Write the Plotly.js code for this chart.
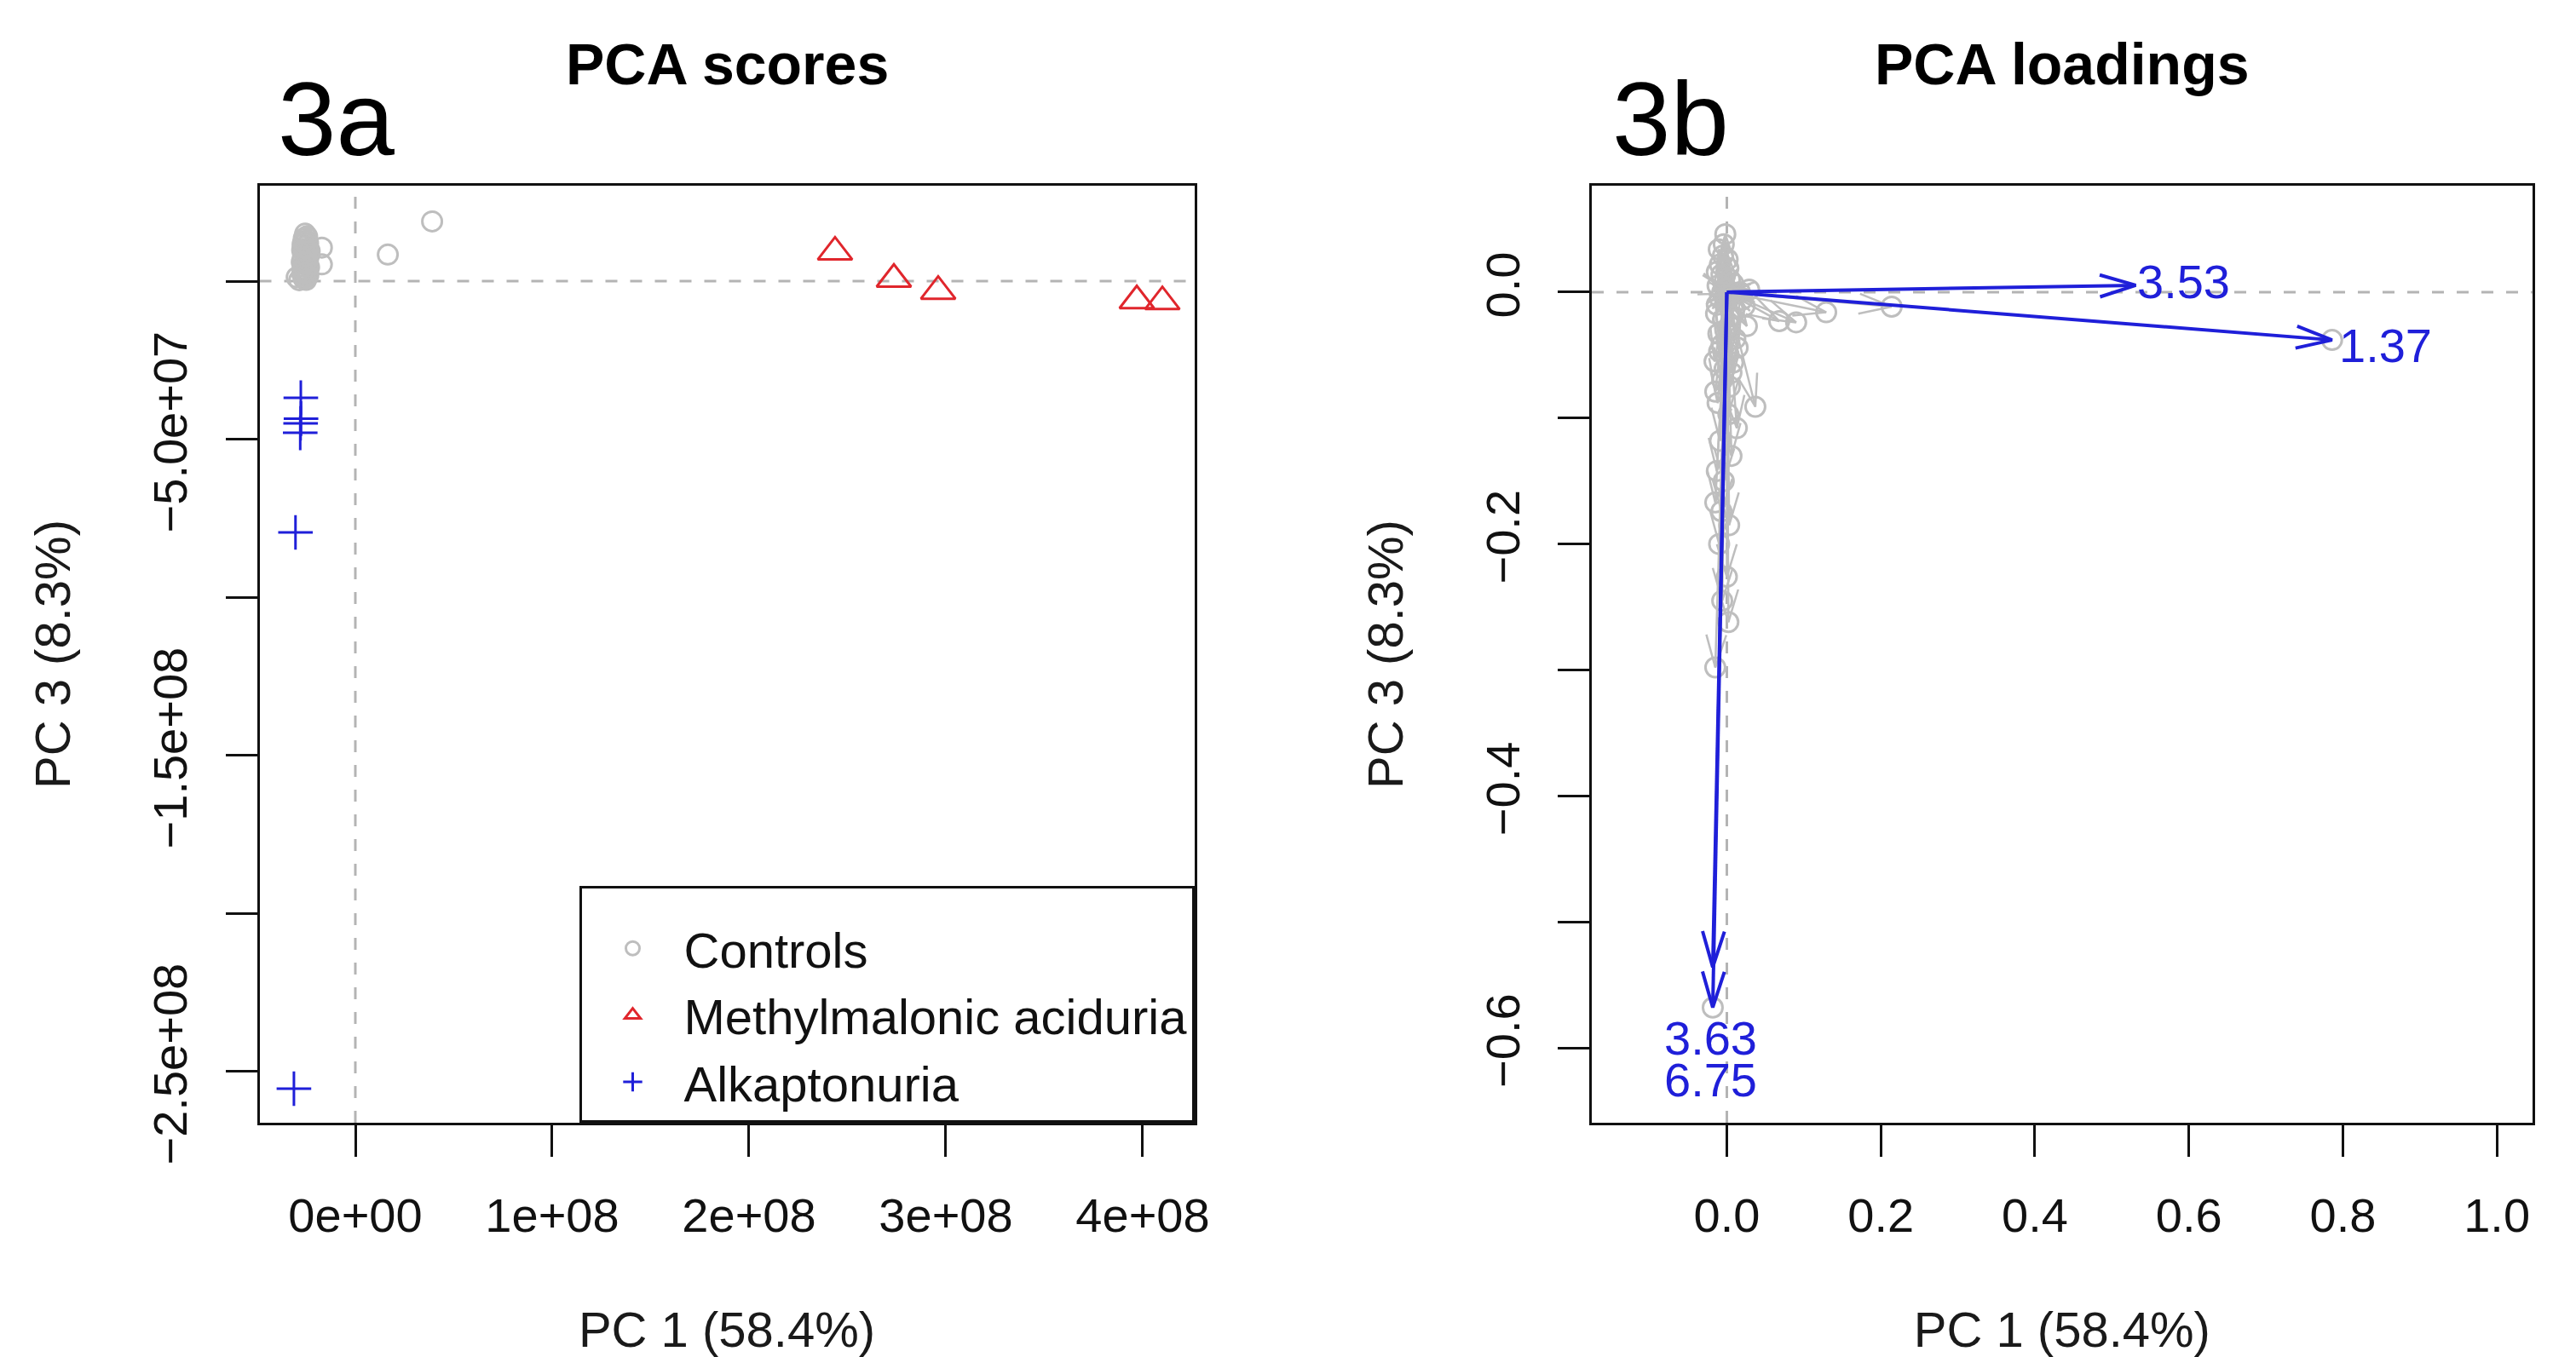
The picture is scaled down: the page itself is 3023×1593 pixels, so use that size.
<!DOCTYPE html>
<html>
<head>
<meta charset="utf-8">
<script src="https://cdn.plot.ly/plotly-3.0.1.min.js"></script>
<style>html,body{margin:0;padding:0;background:#fff;}#chart{width:3023px;height:1593px;}</style>
</head>
<body>
<div id="chart"></div>
<script>
// ---------- Panel 3a: PCA scores ----------
const groupNames = ['Controls', 'Methylmalonic aciduria', 'Alkaptonuria'];

const controlsPC1 = [-2.55e7, -2.45e7, -2.62e7, -2.50e7, -2.40e7, -2.68e7, -2.55e7, -2.42e7, -2.70e7, -2.60e7,
                     -2.47e7, -2.36e7, -2.66e7, -2.52e7, -2.41e7, -2.72e7, -2.58e7, -2.45e7, -2.35e7, -2.67e7,
                     -2.53e7, -2.42e7, -2.70e7, -2.58e7, -2.46e7, -2.62e7, -2.50e7, -2.98e7, -2.85e7, -1.70e7,
                     -1.70e7, -2.48e7, -2.57e7, -2.44e7, -2.63e7, -2.39e7, -2.55e7, -2.32e7, -2.64e7, -2.51e7,
                     1.65e7, 3.90e7];
const controlsPC3 = [15.0e6, 14.2e6, 13.5e6, 12.8e6, 12.0e6, 11.6e6, 11.0e6, 10.3e6, 9.8e6, 9.2e6,
                     8.7e6, 8.1e6, 7.6e6, 7.0e6, 6.5e6, 6.0e6, 5.5e6, 4.9e6, 4.4e6, 3.9e6,
                     3.3e6, 2.8e6, 2.3e6, 1.8e6, 1.3e6, 0.8e6, 0.4e6, 1.2e6, 0.3e6, 10.6e6,
                     5.3e6, 13.7e6, 10.1e6, 7.7e6, 4.6e6, 1.9e6, 2.6e6, 9.5e6, 12.3e6, 5.9e6,
                     8.4e6, 18.9e6];

const mmaPC1 = [2.437e8, 2.736e8, 2.961e8, 3.970e8, 4.100e8];
const mmaPC3 = [9.2e6, 0.6e6, -3.2e6, -6.2e6, -6.5e6];

const akuPC1 = [-2.77e7, -2.76e7, -2.78e7, -2.80e7, -3.04e7, -3.12e7];
const akuPC3 = [-3.69e7, -4.35e7, -4.50e7, -4.80e7, -7.95e7, -2.555e8];

const scoresXTickVals = [0, 1e8, 2e8, 3e8, 4e8];
const scoresXTickText = ['0e+00', '1e+08', '2e+08', '3e+08', '4e+08'];
const scoresYTickVals = [0, -5e7, -1e8, -1.5e8, -2e8, -2.5e8];
const scoresYTickText = ['', '\u22125.0e+07', '', '\u22121.5e+08', '', '\u22122.5e+08'];

// ---------- Panel 3b: PCA loadings ----------
const loadPC1 = [-0.002, -0.0105, -0.005, -0.009, 0.002, -0.007, 0.004, -0.012, -0.003, 0.006,
                 -0.009, 0.000, 0.010, -0.014, -0.005, 0.004, -0.011, 0.011, -0.007, 0.002,
                 -0.016, -0.003, 0.006, -0.015, 0.037, 0.013, -0.015, -0.007, 0.000, -0.015,
                 0.023, 0.029, 0.026, 0.068, 0.090, 0.129, 0.214, 0.786, -0.0183,
                 -0.004, 0.001, -0.013, 0.008, -0.006, 0.003, -0.013, 0.007, -0.002, 0.014,
                 -0.010, 0.008, -0.006, 0.004, -0.012, 0.002, -0.009, 0.006, -0.013, -0.004,
                 0.003, -0.010, -0.006, 0.002, 0.017, 0.020];
const loadPC3 = [0.046, 0.034, 0.029, 0.022, 0.019, 0.014, 0.010, 0.005, 0.003, -0.001,
                 -0.005, -0.009, -0.013, -0.017, -0.022, -0.027, -0.033, -0.037, -0.042, -0.049,
                 -0.055, -0.061, -0.064, -0.079, -0.091, -0.108, -0.167, -0.174, -0.226, -0.298,
                 -0.011, 0.002, -0.027, -0.023, -0.024, -0.016, -0.0115, -0.038, -0.568,
                 0.038, 0.026, 0.016, 0.007, 0.000, -0.003, -0.010, -0.019, -0.030, -0.044,
                 -0.047, -0.056, -0.070, -0.075, -0.088, -0.097, -0.118, -0.130, -0.142, -0.150,
                 -0.185, -0.200, -0.245, -0.262, 0.000, -0.006];

const topLabels = ['3.53', '1.37', '3.63', '6.75'];
const topPC1 = [0.531, 0.786, -0.0183, -0.0183];
const topPC3 = [0.0054, -0.038, -0.536, -0.568];

const loadXTickVals = [0, 0.2, 0.4, 0.6, 0.8, 1.0];
const loadXTickText = ['0.0', '0.2', '0.4', '0.6', '0.8', '1.0'];
const loadYTickVals = [0, -0.1, -0.2, -0.3, -0.4, -0.5, -0.6];
const loadYTickText = ['0.0', '', '\u22120.2', '', '\u22120.4', '', '\u22120.6'];

const axisTitleX = 'PC 1 (58.4%)';
const axisTitleY = 'PC 3 (8.3%)';

// ---------- styles ----------
const FONT = 'Liberation Sans, Arial, sans-serif';
const GRAY = '#BEBEBE';
const RED = '#E0262C';
const BLUE = '#1F1FD9';

function segs(x0, y0, xs, ys) {
  const sx = [], sy = [];
  for (let i = 0; i < xs.length; i++) { sx.push(x0, xs[i], null); sy.push(y0, ys[i], null); }
  return {x: sx, y: sy};
}
const graySegs = segs(0, 0, loadPC1, loadPC3);
const blueSegs = segs(0, 0, topPC1, topPC3);

const traces = [
  {type: 'scatter', mode: 'markers', name: groupNames[0], x: controlsPC1, y: controlsPC3, xaxis: 'x', yaxis: 'y',
   marker: {symbol: 'circle-open', size: 23, color: GRAY, line: {color: GRAY, width: 3}}},
  {type: 'scatter', mode: 'markers', name: groupNames[1], x: mmaPC1, y: mmaPC3, xaxis: 'x', yaxis: 'y',
   marker: {symbol: 'triangle-up-open', size: 35, color: RED, line: {color: RED, width: 3}}},
  {type: 'scatter', mode: 'markers', name: groupNames[2], x: akuPC1, y: akuPC3, xaxis: 'x', yaxis: 'y',
   marker: {symbol: 'cross-thin-open', size: 29, color: BLUE, line: {color: BLUE, width: 3}}},
  // loadings: gray arrows, heads, circles
  {type: 'scatter', mode: 'lines', x: graySegs.x, y: graySegs.y, xaxis: 'x2', yaxis: 'y2', showlegend: false,
   line: {color: GRAY, width: 2.5}, hoverinfo: 'skip'},
  {type: 'scatter', mode: 'lines', x: [], y: [], xaxis: 'x2', yaxis: 'y2', showlegend: false,
   line: {color: GRAY, width: 2.5}, hoverinfo: 'skip'},
  {type: 'scatter', mode: 'markers', x: loadPC1, y: loadPC3, xaxis: 'x2', yaxis: 'y2', showlegend: false,
   marker: {symbol: 'circle-open', size: 23, color: GRAY, line: {color: GRAY, width: 3}}},
  {type: 'scatter', mode: 'lines', x: blueSegs.x, y: blueSegs.y, xaxis: 'x2', yaxis: 'y2', showlegend: false,
   line: {color: BLUE, width: 4}, hoverinfo: 'skip'},
  {type: 'scatter', mode: 'lines', x: [], y: [], xaxis: 'x2', yaxis: 'y2', showlegend: false,
   line: {color: BLUE, width: 4}, hoverinfo: 'skip'}
];

const baseAxis = {
  showline: true, mirror: true, linecolor: '#111', linewidth: 3,
  ticks: 'outside', ticklen: 37, tickwidth: 3, tickcolor: '#111',
  showgrid: false, zeroline: false, automargin: false,
  tickfont: {family: FONT, size: 56, color: '#111'}
};
function ax(extra) { return Object.assign(JSON.parse(JSON.stringify(baseAxis)), extra); }

const yDom = [1 - 1318 / 1593, 1 - 218 / 1593];
const xTitle = {text: axisTitleX, standoff: 84, font: {family: FONT, size: 58, color: '#1a1a1a'}};
const yTitle = {text: axisTitleY, standoff: 67, font: {family: FONT, size: 58, color: '#1a1a1a'}};

const dashLine = {color: '#B4B4B4', width: 3, dash: '14px,15px'};
const labelShift = [
  {xanchor: 'left', yanchor: 'middle', xshift: 0, yshift: 4},
  {xanchor: 'left', yanchor: 'middle', xshift: 6, yshift: -6},
  {xanchor: 'center', yanchor: 'middle', xshift: -2, yshift: -83},
  {xanchor: 'center', yanchor: 'middle', xshift: -2, yshift: -85}
];
const labelAnn = topLabels.map((t, i) => Object.assign({
  text: t, x: topPC1[i], y: topPC3[i], xref: 'x2', yref: 'y2', showarrow: false,
  font: {family: FONT, size: 56, color: BLUE}
}, labelShift[i]));

const layout = {
  width: 3023, height: 1593,
  margin: {l: 0, r: 0, t: 0, b: 0},
  paper_bgcolor: '#fff', plot_bgcolor: '#fff',
  showlegend: true,
  legend: {
    x: 1401.5 / 3023, xanchor: 'right', y: 1 - 1318 / 1593, yanchor: 'bottom',
    bordercolor: '#111', borderwidth: 3, bgcolor: '#fff',
    font: {family: FONT, size: 58, color: '#111'}, itemwidth: 110,
    title: {text: '\u00a0', font: {family: FONT, size: 20, color: '#fff'}}
  },
  xaxis: ax({domain: [304.5 / 3023, 1401.5 / 3023], range: [-4.87e7, 4.262e8], anchor: 'y',
             tickmode: 'array', tickvals: scoresXTickVals, ticktext: scoresXTickText,
             ticklabelstandoff: 21, title: xTitle}),
  yaxis: ax({domain: yDom, range: [-2.663e8, 3.019e7], anchor: 'x',
             tickmode: 'array', tickvals: scoresYTickVals, ticktext: scoresYTickText, tickangle: -90,
             ticklabelstandoff: 23, title: yTitle}),
  xaxis2: ax({domain: [1868 / 3023, 2971.7 / 3023], range: [-0.1754, 1.046], anchor: 'y2',
              tickmode: 'array', tickvals: loadXTickVals, ticktext: loadXTickText,
              ticklabelstandoff: 21, title: xTitle}),
  yaxis2: ax({domain: yDom, range: [-0.6595, 0.0845], anchor: 'x2',
              tickmode: 'array', tickvals: loadYTickVals, ticktext: loadYTickText, tickangle: -90,
              ticklabelstandoff: 23, title: yTitle}),
  shapes: [
    {type: 'line', xref: 'x domain', yref: 'y', x0: 0, x1: 1, y0: 0, y1: 0, line: dashLine, layer: 'below'},
    {type: 'line', xref: 'x', yref: 'y domain', x0: 0, x1: 0, y0: 0, y1: 1, line: dashLine, layer: 'below'},
    {type: 'line', xref: 'x2 domain', yref: 'y2', x0: 0, x1: 1, y0: 0, y1: 0, line: dashLine, layer: 'below'},
    {type: 'line', xref: 'x2', yref: 'y2 domain', x0: 0, x1: 0, y0: 0, y1: 1, line: dashLine, layer: 'below'}
  ],
  annotations: [
    {text: 'PCA scores', xref: 'paper', yref: 'paper', x: 853 / 3023, y: 1 - 75 / 1593,
     xanchor: 'center', yanchor: 'middle', showarrow: false,
     font: {family: FONT, size: 68, color: '#000', weight: 'bold'}},
    {text: 'PCA loadings', xref: 'paper', yref: 'paper', x: 2420 / 3023, y: 1 - 75 / 1593,
     xanchor: 'center', yanchor: 'middle', showarrow: false,
     font: {family: FONT, size: 68, color: '#000', weight: 'bold'}},
    {text: '3a', xref: 'paper', yref: 'paper', x: 394 / 3023, y: 1 - 139 / 1593,
     xanchor: 'center', yanchor: 'middle', showarrow: false,
     font: {family: FONT, size: 123, color: '#000'}},
    {text: '3b', xref: 'paper', yref: 'paper', x: 1960 / 3023, y: 1 - 139 / 1593,
     xanchor: 'center', yanchor: 'middle', showarrow: false,
     font: {family: FONT, size: 123, color: '#000'}}
  ].concat(labelAnn)
};

const gd = document.getElementById('chart');

function arrowHeads(xa, ya, xs, ys, len, angDeg) {
  const hx = [], hy = [];
  const a = angDeg * Math.PI / 180, c = Math.cos(a), s = Math.sin(a);
  const ox = xa.c2p(0), oy = ya.c2p(0);
  for (let i = 0; i < xs.length; i++) {
    const px = xa.c2p(xs[i]), py = ya.c2p(ys[i]);
    let dx = ox - px, dy = oy - py;
    const L = Math.hypot(dx, dy);
    if (L < 1) continue;
    dx /= L; dy /= L;
    const l1x = px + len * (dx * c - dy * s), l1y = py + len * (dx * s + dy * c);
    const l2x = px + len * (dx * c + dy * s), l2y = py + len * (-dx * s + dy * c);
    hx.push(xa.p2c(l1x), xs[i], xa.p2c(l2x), null);
    hy.push(ya.p2c(l1y), ys[i], ya.p2c(l2y), null);
  }
  return {x: hx, y: hy};
}

Plotly.newPlot(gd, traces, layout, {staticPlot: true}).then(() => {
  const xa = gd._fullLayout.xaxis2, ya = gd._fullLayout.yaxis2;
  const gh = arrowHeads(xa, ya, loadPC1, loadPC3, 40, 17);
  const bh = arrowHeads(xa, ya, topPC1, topPC3, 44, 17);
  return Plotly.restyle(gd, {x: [gh.x, bh.x], y: [gh.y, bh.y]}, [4, 7]);
});
</script>
</body>
</html>
